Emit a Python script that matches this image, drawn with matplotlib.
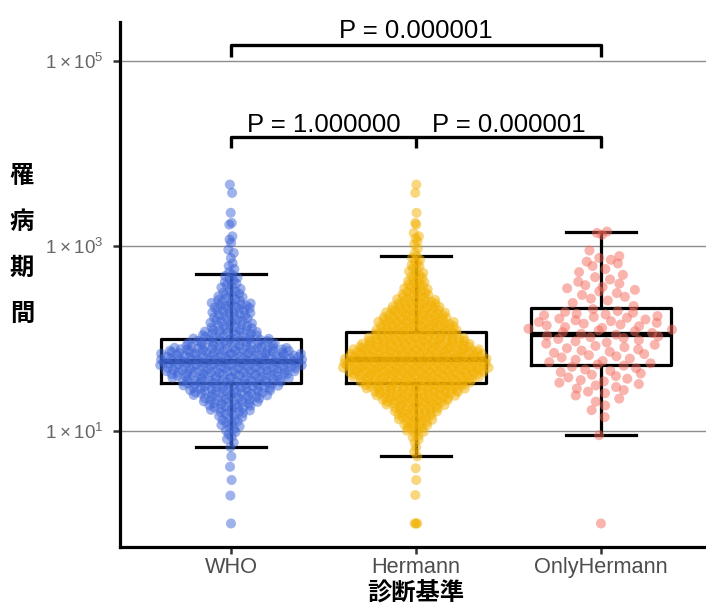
import numpy as np
import matplotlib
matplotlib.use("Agg")
import matplotlib.pyplot as plt
from matplotlib import cbook

plt.rcParams['font.family'] = ['Liberation Sans', 'Noto Sans CJK JP', 'DejaVu Sans']
plt.rcParams['mathtext.fontset'] = 'custom'
plt.rcParams['mathtext.rm'] = 'Liberation Sans'

groups = ['WHO', 'Hermann', 'OnlyHermann']
colors = ['#3F66D8', '#F2B000', '#F56A5C']

# 罹病期間: log10 を 0.1 刻みにしたビンごとの件数（本体）と、裾の個別の値
who_start = 0.8
who_counts = [2, 4, 7, 9, 16, 23, 32, 39, 48, 53, 50, 32, 21, 15, 14, 16, 10, 7, 6, 3]
who_tail = [1, 2, 2.95, 4.1, 5.3, 650, 740, 840, 910, 1080, 1170, 1270, 1700, 1770, 2280, 3740, 4600]

her_start = 0.7
her_counts = [2, 2, 5, 12, 17, 23, 34, 44, 54, 66, 68, 61, 50, 39, 36, 30, 23, 15, 11, 8, 6, 5, 2, 3]
her_tail = [1, 1, 1, 2.03, 2.95, 3.95, 1270, 1380, 1700, 1770, 2280, 3740, 4600]

only_start = 1.1
only_counts = [1, 2, 3, 6, 7, 7, 8, 8, 8, 11, 11, 11, 3, 5, 6, 4, 3, 5, 1]
only_tail = [1, 9, 1320, 1380, 1430]

# 検定結果 (WHO-Hermann, Hermann-OnlyHermann, WHO-OnlyHermann)
p_labels = ['P = 1.000000', 'P = 0.000001', 'P = 0.000001']


def expand(start, counts, tail):
    # ビン内に均等に並べる (log10 の値)
    vals = [start + 0.1 * i + 0.1 * (np.arange(n) + 0.5) / n for i, n in enumerate(counts)]
    return np.sort(np.concatenate(vals + [np.log10(tail)]))


def vdc(n):
    out = []
    for k in range(1, n + 1):
        v, f = 0.0, 0.5
        while k:
            v += (k & 1) * f
            k >>= 1
            f /= 2
        out.append(v)
    return np.array(out)


def quasirandom(y, width=0.4, adjust=0.5):
    # ggbeeswarm の geom_quasirandom と同じ考え方
    n = len(y)
    q75, q25 = np.percentile(y, [75, 25])
    bw = 0.9 * min(y.std(ddof=1), (q75 - q25) / 1.34) * n ** -0.2 * adjust
    dens = lambda t: np.exp(-0.5 * ((t[:, None] - y[None, :]) / bw) ** 2).sum(1)
    grid = np.linspace(y.min() - 3 * bw, y.max() + 3 * bw, 512)
    d = dens(y) / dens(grid).max()
    rank = np.argsort(np.argsort(y, kind='stable'), kind='stable')
    return (vdc(n)[rank] - 0.5) * 2 * d * width


logs = [expand(who_start, who_counts, who_tail),
        expand(her_start, her_counts, her_tail),
        expand(only_start, only_counts, only_tail)]

fig = plt.figure(figsize=(7.06, 6.06), dpi=100)
ax = fig.add_axes([0.17, 0.0974, 0.83, 0.8663])

# 箱ひげ図 (統計量は log10 スケールで計算)
stats = []
for L in logs:
    s = cbook.boxplot_stats(L)[0]
    for k in ['med', 'q1', 'q3', 'whislo', 'whishi', 'mean']:
        s[k] = 10 ** s[k]
    stats.append(s)
ax.bxp(stats, positions=[0, 1, 2], widths=0.76, capwidths=0.38, showfliers=False,
       boxprops=dict(color='black', lw=2.3), whiskerprops=dict(color='black', lw=2.3),
       capprops=dict(color='black', lw=2.3), medianprops=dict(color='black', lw=3.8),
       zorder=2)

for i, L in enumerate(logs):
    ax.scatter(i + quasirandom(L), 10 ** L, s=52, color=colors[i], alpha=0.5,
               edgecolors='none', zorder=3)

ax.set_yscale('log')
ax.set_ylim(10 ** -0.254, 10 ** 5.42)
ax.set_xlim(-0.6, 2.568)
ax.set_yticks([10, 1e3, 1e5])
ax.set_yticklabels([r'$\mathregular{1\times10^{1}}$', r'$\mathregular{1\times10^{3}}$',
                    r'$\mathregular{1\times10^{5}}$'])
ax.minorticks_off()
ax.set_xticks([0, 1, 2])
ax.set_xticklabels(groups)
ax.tick_params(axis='y', labelsize=13.5, labelcolor='#666666', length=5, width=1.8,
               color='#333333', pad=7)
ax.tick_params(axis='x', labelsize=15.7, labelcolor='#4D4D4D', length=5, width=1.8,
               color='#333333', pad=2)
ax.grid(axis='y', color='#8C8C8C', lw=1.0, zorder=0)
ax.set_axisbelow(True)
for sp in ['top', 'right']:
    ax.spines[sp].set_visible(False)
for sp in ['left', 'bottom']:
    ax.spines[sp].set_linewidth(2.3)

# 有意差のブラケット
kw = dict(color='black', lw=2.4, clip_on=False, zorder=4, solid_capstyle='butt')
ax.plot([0, 0, 2, 2], [10 ** 5.046, 10 ** 5.173, 10 ** 5.173, 10 ** 5.046], **kw)
ax.plot([0, 0, 2, 2], [10 ** 4.056, 10 ** 4.182, 10 ** 4.182, 10 ** 4.056], **kw)
ax.plot([1, 1], [10 ** 4.056, 10 ** 4.182], **kw)
ax.text(0.5, 10 ** 4.236, p_labels[0], ha='center', va='baseline', fontsize=18.5)
ax.text(1.5, 10 ** 4.236, p_labels[1], ha='center', va='baseline', fontsize=18.5)
ax.text(1.0, 10 ** 5.249, p_labels[2], ha='center', va='baseline', fontsize=18.5)

# 軸ラベル
for j, ch in enumerate('罹病期間'):
    fig.text(22 / 706, 1 - (176 + 46 * j) / 606, ch, ha='center', va='center',
             fontsize=17.5, fontweight='bold', family=['Noto Sans CJK JP', 'DejaVu Sans'])
fig.text(416 / 706, 1 - 594 / 606, '診断基準', ha='center', va='center',
         fontsize=17.5, fontweight='bold', family=['Noto Sans CJK JP', 'DejaVu Sans'])

fig.savefig('out.png', dpi=100)
